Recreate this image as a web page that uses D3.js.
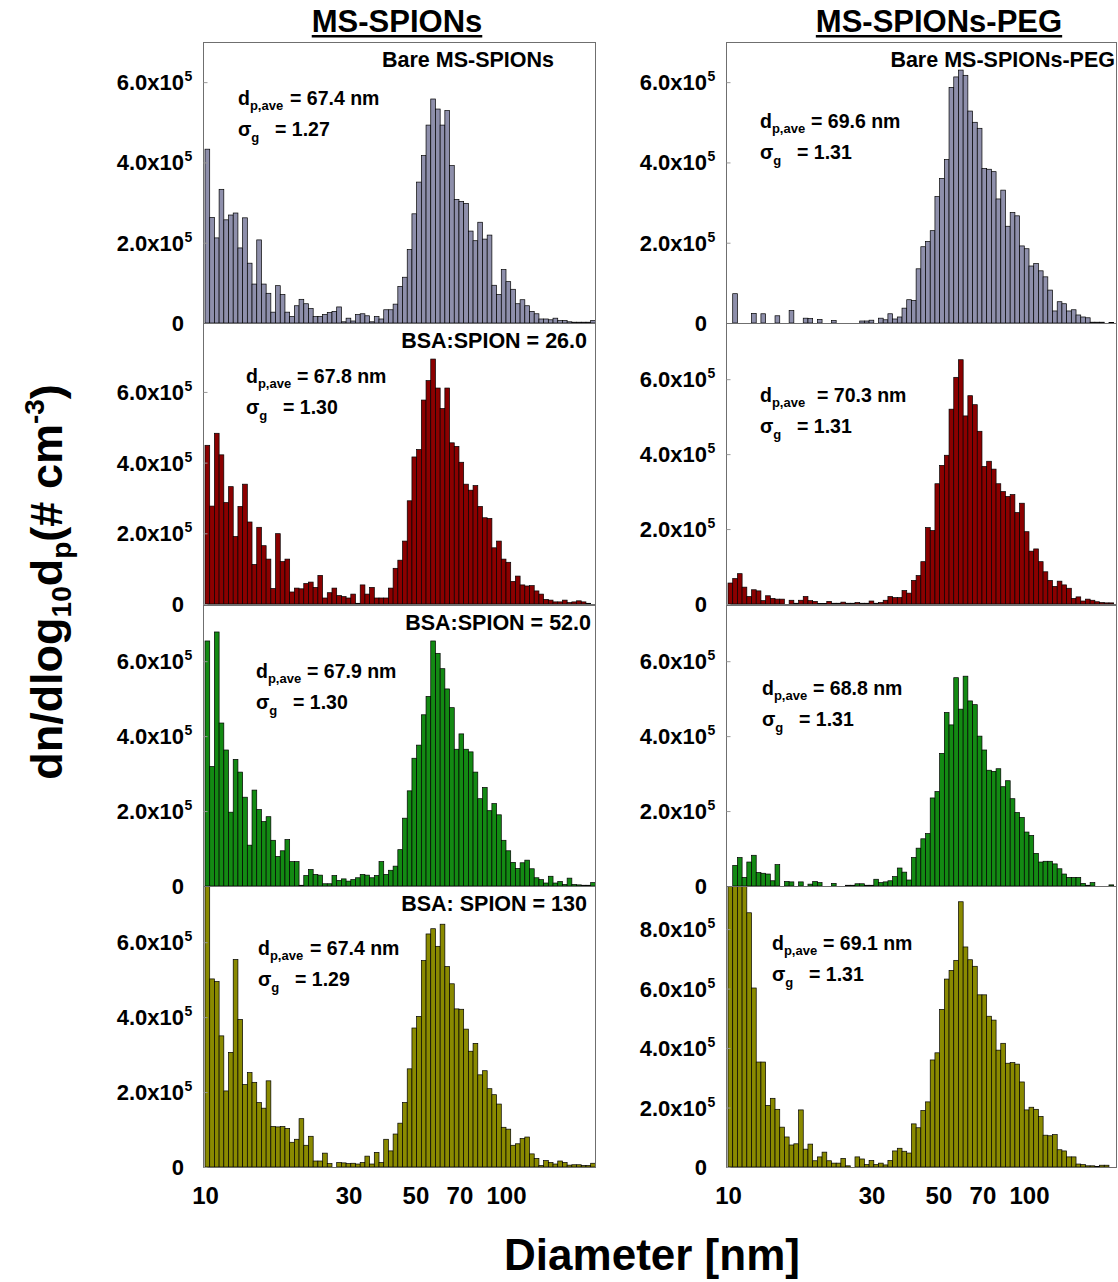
<!DOCTYPE html>
<html>
<head>
<meta charset="utf-8">
<script src="https://cdn.jsdelivr.net/npm/d3@7"></script>
<style>
  body { margin: 0; background: #fff; }
  text { font-family: Arial, "Liberation Sans", Helvetica, sans-serif; font-weight: bold; fill: #000; }
</style>
</head>
<body>
<div id="figure"></div>
<script>
// bins: 64 channels per decade starting at 10 nm, values in units of 1e5 # cm-3
var binsPerDecade = 64;
var binStart = 10;
var unit = 1e5;

var columnTitles = ['MS-SPIONs', 'MS-SPIONs-PEG'];
var rowLabels = [
    ['Bare MS-SPIONs', 'BSA:SPION = 26.0', 'BSA:SPION = 52.0', 'BSA: SPION = 130'],
    ['Bare MS-SPIONs-PEG', '', '', '']
];
var dAve = [['67.4', '67.8', '67.9', '67.4'], ['69.6', '70.3', '68.8', '69.1']];
var sigmaG = [['1.27', '1.30', '1.30', '1.29'], ['1.31', '1.31', '1.31', '1.31']];
var yMax = [[7.0, 7.95, 7.5, 7.5], [7.0, 7.5, 7.5, 9.45]];
var yTicks = [[[0, 2, 4, 6], [0, 2, 4, 6], [0, 2, 4, 6], [0, 2, 4, 6]],
              [[0, 2, 4, 6], [0, 2, 4, 6], [0, 2, 4, 6], [0, 2, 4, 6, 8]]];
var xTicks = [10, 30, 50, 70, 100];
var colors = ['#8e8fab', '#8b0000', '#138a13', '#8a8a00'];

var msBare = [4.33, 2.63, 2.12, 3.33, 2.57, 2.69, 2.74, 1.87, 2.62, 1.49, 0.97, 2.07, 0.97, 0.74, 0.27, 0.93,
    0.71, 0.27, 0.16, 0.43, 0.59, 0.48, 0.36, 0.16, 0.16, 0.21, 0.26, 0.29, 0.40, 0.03, 0.12, 0.05,
    0.21, 0.23, 0.18, 0.03, 0.16, 0.10, 0.33, 0.33, 0.47, 0.91, 1.14, 1.83, 2.72, 3.51, 4.17, 4.93,
    5.58, 5.33, 4.93, 5.29, 3.92, 3.08, 3.03, 2.98, 2.29, 2.05, 2.51, 2.09, 2.19, 0.94, 0.71, 1.33,
    1.03, 0.84, 0.48, 0.58, 0.43, 0.29, 0.23, 0.10, 0.10, 0.08, 0.12, 0.06, 0.06, 0.03, 0.02, 0.02,
    0.02, 0.02, 0.06];
var msBsa26 = [4.49, 2.77, 4.83, 4.22, 2.87, 3.32, 1.91, 2.76, 3.39, 2.32, 1.12, 2.17, 1.65, 1.27, 0.44, 1.99,
    1.20, 1.27, 0.34, 0.45, 0.43, 0.58, 0.62, 0.47, 0.81, 0.17, 0.32, 0.45, 0.24, 0.21, 0.17, 0.28,
    0.02, 0.54, 0.28, 0.47, 0.17, 0.17, 0.17, 0.45, 1.01, 1.24, 1.78, 2.92, 4.16, 4.37, 5.77, 6.32,
    6.93, 6.11, 5.53, 6.11, 4.56, 4.46, 4.01, 3.39, 3.22, 3.35, 2.76, 2.44, 2.42, 1.59, 1.78, 1.27,
    1.18, 0.64, 0.79, 0.54, 0.51, 0.52, 0.37, 0.28, 0.13, 0.11, 0.06, 0.06, 0.11, 0.04, 0.06, 0.09,
    0.06, 0.02, 0.00];
var msBsa52 = [6.54, 3.19, 6.78, 4.35, 3.63, 1.97, 3.38, 3.04, 2.37, 1.09, 2.56, 2.04, 1.72, 1.85, 1.22, 0.79,
    0.94, 1.24, 0.65, 0.65, 0.02, 0.28, 0.44, 0.31, 0.29, 0.06, 0.06, 0.28, 0.15, 0.19, 0.13, 0.17,
    0.22, 0.31, 0.29, 0.22, 0.28, 0.65, 0.31, 0.42, 0.53, 0.97, 1.81, 2.54, 3.41, 3.76, 4.57, 5.06,
    6.54, 6.21, 5.80, 5.26, 4.76, 3.65, 4.06, 3.65, 3.58, 3.04, 2.33, 2.63, 2.01, 2.20, 1.90, 1.22,
    0.94, 0.63, 0.47, 0.62, 0.69, 0.46, 0.22, 0.17, 0.08, 0.26, 0.08, 0.12, 0.04, 0.21, 0.04, 0.03,
    0.02, 0.02, 0.09];
var msBsa130 = [7.80, 5.02, 4.95, 3.50, 2.03, 3.06, 5.54, 3.94, 2.20, 2.52, 2.26, 1.72, 1.57, 2.30, 1.08, 1.07,
    1.08, 1.03, 0.66, 0.74, 1.29, 0.58, 0.82, 0.16, 0.16, 0.37, 0.09, 0.00, 0.12, 0.11, 0.09, 0.10,
    0.08, 0.12, 0.29, 0.08, 0.39, 0.12, 0.74, 0.43, 0.88, 1.17, 1.72, 2.62, 3.71, 4.02, 5.51, 6.22,
    6.36, 5.89, 6.48, 5.35, 4.89, 4.22, 4.21, 3.68, 3.09, 3.30, 2.46, 2.57, 2.09, 1.93, 1.68, 1.06,
    1.01, 0.58, 0.62, 0.76, 0.80, 0.35, 0.23, 0.04, 0.17, 0.12, 0.08, 0.16, 0.12, 0.05, 0.06, 0.06,
    0.04, 0.04, 0.10];
var pegBare = [0.00, 0.73, 0.00, 0.00, 0.00, 0.24, 0.00, 0.23, 0.00, 0.00, 0.18, 0.00, 0.00, 0.31, 0.00, 0.00,
    0.12, 0.11, 0.00, 0.09, 0.00, 0.00, 0.06, 0.00, 0.00, 0.00, 0.00, 0.00, 0.05, 0.05, 0.07, 0.00,
    0.12, 0.08, 0.23, 0.10, 0.15, 0.37, 0.58, 0.56, 1.35, 1.90, 2.03, 2.30, 3.15, 3.60, 4.07, 5.87,
    6.13, 6.30, 6.17, 5.28, 5.00, 4.85, 3.85, 3.83, 3.77, 3.09, 3.31, 2.41, 2.75, 2.67, 1.92, 1.85,
    1.42, 1.48, 1.30, 1.15, 0.82, 0.30, 0.53, 0.48, 0.30, 0.33, 0.20, 0.15, 0.13, 0.02, 0.02, 0.02,
    0.00, 0.01, 0.00];
var pegBsa26 = [0.56, 0.68, 0.81, 0.45, 0.20, 0.38, 0.35, 0.09, 0.22, 0.15, 0.13, 0.13, 0.00, 0.10, 0.02, 0.10,
    0.20, 0.09, 0.07, 0.01, 0.01, 0.07, 0.02, 0.02, 0.05, 0.02, 0.02, 0.04, 0.02, 0.02, 0.08, 0.02,
    0.04, 0.10, 0.20, 0.17, 0.17, 0.36, 0.29, 0.63, 0.76, 1.13, 2.04, 1.96, 3.21, 3.70, 3.97, 5.20,
    6.05, 6.52, 5.02, 5.56, 5.32, 4.61, 3.67, 3.81, 3.60, 3.21, 3.00, 2.87, 2.92, 2.44, 2.69, 1.93,
    1.41, 1.47, 1.13, 0.86, 0.63, 0.47, 0.61, 0.51, 0.42, 0.15, 0.19, 0.08, 0.13, 0.10, 0.06, 0.04,
    0.03, 0.03, 0.00];
var pegBsa52 = [0.00, 0.55, 0.76, 0.23, 0.64, 0.82, 0.36, 0.34, 0.32, 0.14, 0.57, 0.00, 0.12, 0.11, 0.00, 0.11,
    0.00, 0.05, 0.12, 0.09, 0.00, 0.00, 0.07, 0.00, 0.00, 0.02, 0.02, 0.06, 0.06, 0.02, 0.02, 0.18,
    0.09, 0.11, 0.14, 0.25, 0.48, 0.37, 0.16, 0.76, 1.01, 1.26, 1.40, 2.35, 2.52, 3.54, 4.63, 4.30,
    5.56, 4.72, 5.60, 4.94, 4.84, 4.00, 3.63, 3.09, 3.06, 3.13, 2.65, 2.81, 2.33, 1.96, 1.83, 1.44,
    1.35, 0.87, 0.64, 0.66, 0.66, 0.59, 0.46, 0.32, 0.23, 0.23, 0.23, 0.07, 0.02, 0.09, 0.00, 0.00,
    0.00, 0.03, 0.00];
var pegBsa130 = [10.0, 10.0, 10.0, 10.0, 8.55, 6.02, 3.53, 3.53, 2.07, 2.31, 1.94, 1.34, 1.01, 0.74, 0.78, 1.92,
    0.60, 0.77, 0.21, 0.34, 0.50, 0.21, 0.13, 0.13, 0.29, 0.04, 0.00, 0.34, 0.27, 0.08, 0.22, 0.08,
    0.13, 0.07, 0.22, 0.54, 0.63, 0.53, 0.47, 1.45, 1.32, 1.90, 2.19, 3.60, 3.84, 5.30, 6.32, 6.61,
    6.95, 8.92, 7.40, 6.97, 6.75, 5.79, 5.79, 5.07, 4.94, 3.93, 4.16, 3.49, 3.51, 3.46, 2.86, 1.92,
    2.01, 1.94, 1.70, 1.07, 1.05, 1.09, 0.58, 0.54, 0.34, 0.34, 0.10, 0.08, 0.04, 0.04, 0.02, 0.06,
    0.06, 0.00, 0.00];

var series = [[msBare, msBsa26, msBsa52, msBsa130], [pegBare, pegBsa26, pegBsa52, pegBsa130]];

// annotation placement per panel: [x, baseline below panel top, gap before "="]
var noteLayout = [
    [[238, 63, 52], [246, 60, 51], [256, 73, 51], [258, 69, 52]],
    [[760, 86, 51], [760, 79, 57], [762, 90, 51], [772, 64, 51]]
];
var labelRight = [[554, 587, 591, 587], [1115, 0, 0, 0]];

var panelTop = [42, 323, 605, 886];
var panelHeight = 281;
var colLeft = [204, 727];
var colRight = [596, 1117];

var svg = d3.select('#figure').append('svg')
    .attr('width', 1118)
    .attr('height', 1282);

function edge(i) {
    return binStart * Math.pow(10, i / binsPerDecade);
}

function drawPanel(col, row) {
    var values = series[col][row];
    var top = panelTop[row];
    var bottom = top + panelHeight;
    var x = d3.scaleLog().domain([10, 200]).range([colLeft[col] + 1, colLeft[col] + 1 + 301 * Math.log10(20)]);
    var y = d3.scaleLinear().domain([0, yMax[col][row]]).range([bottom, top]);

    var g = svg.append('g').attr('class', 'panel');
    var clipId = 'clip_' + col + '_' + row;
    g.append('clipPath').attr('id', clipId)
        .append('rect')
        .attr('x', colLeft[col])
        .attr('y', top)
        .attr('width', colRight[col] - colLeft[col])
        .attr('height', panelHeight);

    g.append('g').attr('clip-path', 'url(#' + clipId + ')')
        .selectAll('rect')
        .data(values)
        .enter()
        .append('rect')
        .attr('x', function(d, i) { return x(edge(i)); })
        .attr('width', function(d, i) { return x(edge(i + 1)) - x(edge(i)); })
        .attr('y', function(d) { return y(d); })
        .attr('height', function(d) { return bottom - y(d); })
        .attr('fill', colors[row])
        .attr('stroke', function(d) { return d > 0 ? '#000' : 'none'; })
        .attr('stroke-width', 0.7);

    // frame
    g.append('rect')
        .attr('x', colLeft[col] - 0.5)
        .attr('y', top + 0.5)
        .attr('width', colRight[col] - colLeft[col])
        .attr('height', panelHeight)
        .attr('fill', 'none')
        .attr('stroke', '#6f6f6f')
        .attr('stroke-width', 1);

    // y ticks (inside) and labels
    var yAxis = g.append('g')
        .attr('transform', `translate(${colLeft[col] - 0.5},0)`)
        .call(d3.axisLeft(y).tickValues(yTicks[col][row]).tickSize(-4).tickFormat(''));
    yAxis.select('.domain').remove();
    yAxis.selectAll('line').attr('stroke', '#999');

    var labels = g.append('g').selectAll('g')
        .data(yTicks[col][row])
        .enter()
        .append('g')
        .attr('transform', function(d) { return `translate(${colLeft[col] - 20},${y(d) + 8})`; });
    labels.append('text')
        .attr('text-anchor', 'end')
        .style('font-size', '22px')
        .text(function(d) { return d === 0 ? '0' : d.toFixed(1) + 'x10'; });
    labels.filter(function(d) { return d !== 0; })
        .append('text')
        .attr('x', 0.5)
        .attr('y', -9)
        .style('font-size', '14px')
        .text('5');

    // panel label
    if (rowLabels[col][row]) {
        g.append('text')
            .attr('x', labelRight[col][row])
            .attr('y', top + 25)
            .attr('text-anchor', 'end')
            .style('font-size', '21.5px')
            .text(rowLabels[col][row]);
    }

    // d_p,ave and sigma_g
    var lay = noteLayout[col][row];
    var base = top + lay[1];
    var t1 = g.append('text').attr('x', lay[0]).attr('y', base).style('font-size', '19.5px');
    t1.append('tspan').text('d');
    t1.append('tspan').attr('dy', 5).style('font-size', '13px').text('p,ave');
    t1.append('tspan').attr('x', lay[0] + lay[2]).attr('dy', -5).text('= ' + dAve[col][row] + ' nm');

    var t2 = g.append('text').attr('x', lay[0]).attr('y', base + 31).style('font-size', '19.5px');
    t2.append('tspan').text('\u03c3');
    t2.append('tspan').attr('dy', 6).style('font-size', '13px').text('g');
    t2.append('tspan').attr('x', lay[0] + 37).attr('dy', -6).text('= ' + sigmaG[col][row]);

    // x axis labels only under the bottom panels
    if (row === 3) {
        var xAxis = g.append('g')
            .attr('transform', `translate(0,${bottom})`)
            .call(d3.axisBottom(x).tickValues(xTicks).tickSize(0).tickPadding(20).tickFormat(d3.format('d')));
        xAxis.select('.domain').remove();
        xAxis.selectAll('text')
            .style('font-size', '24px')
            .style('font-family', 'Arial, "Liberation Sans", sans-serif')
            .style('font-weight', 'bold')
            .attr('fill', '#000');
    }
}

for (var c = 0; c < 2; c++) {
    for (var r = 0; r < 4; r++) {
        drawPanel(c, r);
    }
}

// column titles
var titleX = [397, 939];
columnTitles.forEach(function(t, i) {
    var tt = svg.append('text')
        .attr('x', titleX[i])
        .attr('y', 32)
        .attr('text-anchor', 'middle')
        .style('font-size', '31px')
        .text(t);
    var w = tt.node().getComputedTextLength();
    svg.append('rect')
        .attr('x', titleX[i] - w / 2)
        .attr('y', 35)
        .attr('width', w)
        .attr('height', 2.5)
        .attr('fill', '#000');
});

// y axis title
var yt = svg.append('text')
    .attr('transform', 'translate(62,582) rotate(-90)')
    .attr('text-anchor', 'middle')
    .style('font-size', '45px');
yt.append('tspan').text('dn/dlog');
yt.append('tspan').attr('dy', 9).style('font-size', '28px').text('10');
yt.append('tspan').attr('dy', -9).text('d');
yt.append('tspan').attr('dy', 9).style('font-size', '28px').text('p');
yt.append('tspan').attr('dy', -9).text('(# cm');
yt.append('tspan').attr('dy', -18).style('font-size', '28px').text('-3');
yt.append('tspan').attr('dy', 18).text(')');

// x axis title
svg.append('text')
    .attr('x', 652)
    .attr('y', 1270)
    .attr('text-anchor', 'middle')
    .style('font-size', '44px')
    .text('Diameter [nm]');
</script>
</body>
</html>
